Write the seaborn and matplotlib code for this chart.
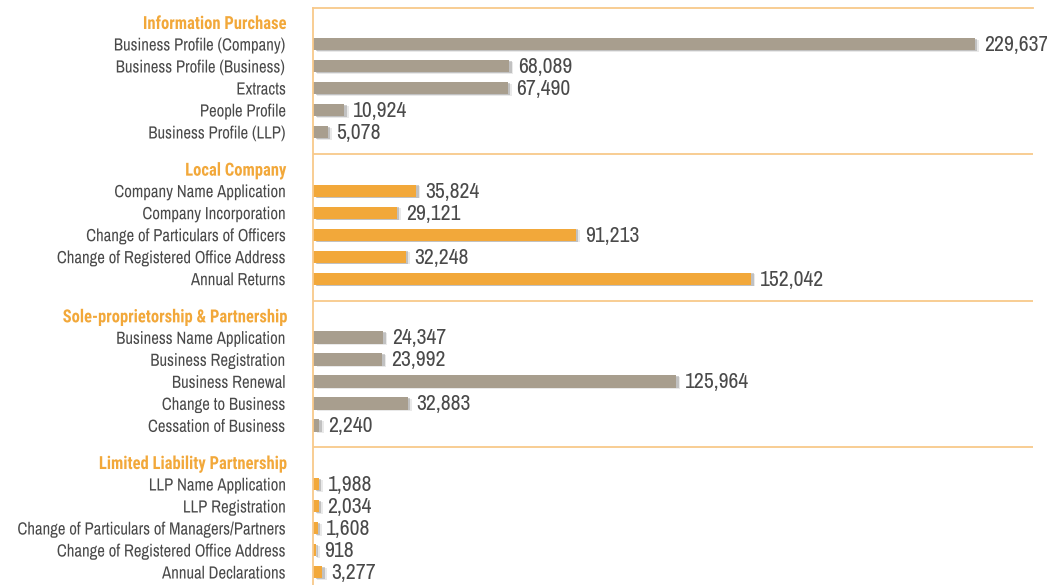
import matplotlib
matplotlib.use("Agg")
import matplotlib.pyplot as plt
import matplotlib.patheffects as pe
from matplotlib.transforms import Affine2D
from matplotlib import font_manager
import seaborn as sns
import pandas as pd

groups = ["Information Purchase", "Local Company",
          "Sole-proprietorship & Partnership", "Limited Liability Partnership"]
info_labels = ["Business Profile (Company)", "Business Profile (Business)", "Extracts",
               "People Profile", "Business Profile (LLP)"]
info_values = [229637, 68089, 67490, 10924, 5078]
local_labels = ["Company Name Application", "Company Incorporation",
                "Change of Particulars of Officers", "Change of Registered Office Address",
                "Annual Returns"]
local_values = [35824, 29121, 91213, 32248, 152042]
sole_labels = ["Business Name Application", "Business Registration", "Business Renewal",
               "Change to Business", "Cessation of Business"]
sole_values = [24347, 23992, 125964, 32883, 2240]
llp_labels = ["LLP Name Application", "LLP Registration",
              "Change of Particulars of Managers/Partners",
              "Change of Registered Office Address", "Annual Declarations"]
llp_values = [1988, 2034, 1608, 918, 3277]

GRAY = "#A89E8E"
ORANGE = "#F2A83A"
LINE = "#F8C98A"
TEXT = "#4A4A4A"
group_colors = {groups[0]: GRAY, groups[1]: ORANGE, groups[2]: GRAY, groups[3]: ORANGE}


class Condense(pe.AbstractPathEffect):
    """Horizontally compress a text path slightly (fine width adjustment)."""
    def __init__(self, sx, anchor="left"):
        super().__init__()
        self.sx = sx
        self.anchor = anchor

    def draw_path(self, renderer, gc, tpath, affine, rgbFace=None):
        ext = tpath.get_extents()
        x0 = ext.x1 if self.anchor == "right" else ext.x0
        t = Affine2D().translate(-x0, 0).scale(self.sx, 1).translate(x0, 0)
        renderer.draw_path(gc, tpath, t + affine, rgbFace)


available = set(f.name for f in font_manager.fontManager.ttflist)
fam = next((f for f in ["Archivo Narrow", "Roboto Condensed", "PT Sans Narrow",
                        "Barlow Semi Condensed", "Asap Condensed", "Roboto"]
            if f in available), "DejaVu Sans")
fam_bold = next((f for f in ["Roboto Condensed", "Barlow Semi Condensed",
                             "Asap Condensed", "Roboto"]
                 if f in available), "DejaVu Sans")

sns.set_theme(style="white")
plt.rcParams["font.family"] = [fam, "DejaVu Sans"]

group_step = 20 / 3
rows = []
tick_pos, tick_lab, tick_hdr = [], [], []
all_sets = [(info_labels, info_values), (local_labels, local_values),
            (sole_labels, sole_values), (llp_labels, llp_values)]
for g, (labs, vals) in enumerate(all_sets):
    base = g * group_step
    tick_pos.append(base); tick_lab.append(groups[g]); tick_hdr.append(True)
    for i, (l, v) in enumerate(zip(labs, vals)):
        rows.append({"group": groups[g], "label": l, "value": v, "pos": base + i + 1})
        tick_pos.append(base + i + 1); tick_lab.append(l); tick_hdr.append(False)
df = pd.DataFrame(rows)

fig = plt.figure(figsize=(10.47, 5.85), dpi=100)
renderer = fig.canvas.get_renderer()


def fit_sx(s, size, weight, target_px, family=None):
    t = fig.text(0, 0, s, fontsize=size, fontweight=weight,
                 family=family if family else [fam, "DejaVu Sans"])
    w = t.get_window_extent(renderer).width
    t.remove()
    return min(1.0, target_px / w)


SZ_CAT, SZ_HDR, SZ_VAL = 12.7, 13.0, 15.6
sx_cat = fit_sx("Business Profile (Company)", SZ_CAT, "normal", 172)
sx_hdr = fit_sx("Information Purchase", SZ_HDR, "bold", 143, [fam_bold, "DejaVu Sans"])
sx_val = fit_sx("68,089", SZ_VAL, "normal", 56)

ax = fig.add_axes([313 / 1047, 0.0, (1033 - 313) / 1047, 1 - 8 / 585])

sns.barplot(data=df, x="value", y="pos", hue="group", palette=group_colors,
            orient="h", native_scale=True, width=0.56, legend=False, ax=ax,
            linewidth=0, saturation=1)

for p in ax.patches:
    p.set_path_effects([
        pe.SimplePatchShadow(offset=(3, -1.2), shadow_rgbFace="#888888", alpha=0.18),
        pe.SimplePatchShadow(offset=(1.8, -0.6), shadow_rgbFace="#777777", alpha=0.35),
        pe.Normal()])

for _, r in df.iterrows():
    kw = {}
    if sx_val < 0.99:
        kw["path_effects"] = [Condense(sx_val, "left")]
    ax.annotate(f"{r['value']:,}", xy=(r["value"], r["pos"]), xytext=(6.3, -0.8),
                textcoords="offset points", va="center", ha="left",
                fontsize=SZ_VAL, color=TEXT, **kw)

ax.set_xlim(0, 249800)
ax.set_ylim(25.59, -0.636)
ax.set_xticks([])
ax.set_yticks(tick_pos)
ax.set_yticklabels(tick_lab)
ax.tick_params(axis="y", length=0, pad=19.5)
for t, hdr in zip(ax.get_yticklabels(), tick_hdr):
    if hdr:
        t.set_family([fam_bold, "DejaVu Sans"])
        t.set_color(ORANGE); t.set_fontweight("bold"); t.set_fontsize(SZ_HDR)
        if sx_hdr < 0.99:
            t.set_path_effects([Condense(sx_hdr, "right")])
    else:
        t.set_color(TEXT); t.set_fontsize(SZ_CAT)
        if sx_cat < 0.99:
            t.set_path_effects([Condense(sx_cat, "right")])

for g in range(3):
    ax.axhline(g * group_step + 6, color=LINE, lw=1.3)

for s in ["right", "bottom"]:
    ax.spines[s].set_visible(False)
for s in ["top", "left"]:
    ax.spines[s].set_color(LINE)
    ax.spines[s].set_linewidth(1.3)

ax.set_xlabel(""); ax.set_ylabel("")
fig.savefig("out.png", dpi=100)
